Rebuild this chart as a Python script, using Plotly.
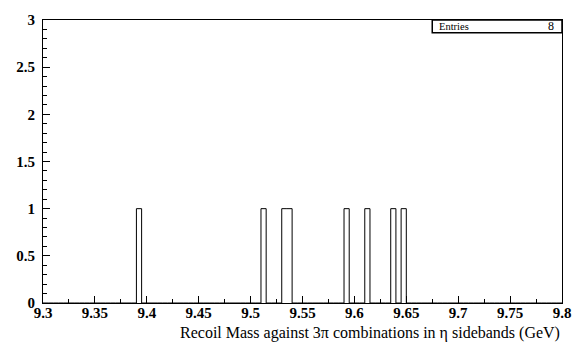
import numpy as np
import plotly.graph_objects as go

# Histogram definition: 100 bins of 0.005 GeV between 9.3 and 9.8
x_min, x_max, n_bins = 9.3, 9.8, 100
# Lower edges of the filled bins and their contents
filled_bin_low = [9.390, 9.510, 9.530, 9.535, 9.590, 9.610, 9.635, 9.645]
filled_counts = [1, 1, 1, 1, 1, 1, 1, 1]

x_tick_vals = [9.3, 9.35, 9.4, 9.45, 9.5, 9.55, 9.6, 9.65, 9.7, 9.75, 9.8]
x_tick_text = ["9.3", "9.35", "9.4", "9.45", "9.5", "9.55", "9.6", "9.65", "9.7", "9.75", "9.8"]
y_tick_vals = [0, 0.5, 1, 1.5, 2, 2.5, 3]
y_tick_text = ["0", "0.5", "1", "1.5", "2", "2.5", "3"]

entries = sum(filled_counts)

# Fill the full bin array and build the outline (step) of the histogram
edges = np.linspace(x_min, x_max, n_bins + 1)
counts = np.zeros(n_bins)
for lo, c in zip(filled_bin_low, filled_counts):
    idx = int(round((lo - x_min) / (x_max - x_min) * n_bins))
    counts[idx] += c
step_x = np.concatenate([[edges[0]], edges])
step_y = np.concatenate([[0], counts, [0]])

serif = "Liberation Serif"

fig = go.Figure()
fig.add_trace(go.Scatter(
    x=step_x, y=step_y, mode="lines", line_shape="hv",
    line=dict(color="black", width=1), hoverinfo="skip", showlegend=False,
))

axis_common = dict(
    showgrid=False, zeroline=False, showline=True, linecolor="black",
    linewidth=1, mirror=True, ticks="inside", tickcolor="black",
    tickfont=dict(family=serif, size=15, color="black"),
)

fig.update_xaxes(
    range=[x_min, x_max], tickmode="array", tickvals=x_tick_vals,
    ticktext=["<b>%s</b>" % t for t in x_tick_text], ticklen=7,
    ticklabelstandoff=-4,
    minor=dict(ticks="inside", dtick=0.025, ticklen=4, tickcolor="black"),
    **axis_common,
)
fig.update_yaxes(
    range=[0, 3], tickmode="array", tickvals=y_tick_vals,
    ticktext=["<b>%s</b>" % t for t in y_tick_text], ticklen=7,
    ticklabelstandoff=4,
    minor=dict(ticks="inside", dtick=0.1, ticklen=4, tickcolor="black"),
    **axis_common,
)

# Axis title, right-aligned under the x axis
fig.add_annotation(
    xref="paper", yref="paper", x=1.0, y=-0.066, xanchor="right",
    yanchor="top", showarrow=False,
    text="Recoil Mass against 3π combinations in η sidebands (GeV)",
    font=dict(family=serif, size=16, color="black"),
)

# Statistics box in the top-right corner of the frame
fig.add_shape(type="rect", xref="paper", yref="paper",
              x0=0.75, x1=1.0, y0=0.955, y1=1.0,
              fillcolor="white", line=dict(color="black", width=1.5))
fig.add_annotation(xref="paper", yref="paper", x=0.759, y=0.978,
                   text="Entries", showarrow=False, xanchor="left",
                   yanchor="middle",
                   font=dict(family=serif, size=10.5, color="black"))
fig.add_annotation(xref="paper", yref="paper", x=0.988, y=0.978,
                   text=str(entries), showarrow=False, xanchor="right",
                   yanchor="middle",
                   font=dict(family=serif, size=12, color="black"))

fig.update_layout(
    width=583, height=348,
    margin=dict(l=43, r=20, t=12, b=45),
    plot_bgcolor="white", paper_bgcolor="white",
    showlegend=False,
)

fig.write_html("out.html")
